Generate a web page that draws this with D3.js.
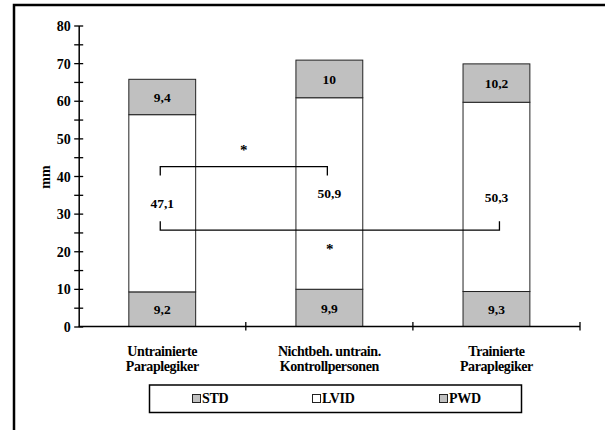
<!DOCTYPE html>
<html><head><meta charset="utf-8">
<script src="https://cdn.jsdelivr.net/npm/d3@7"></script>
<style>
body{margin:0;background:#fff;}
svg text{font-family:"Liberation Serif","Times New Roman","DejaVu Serif",serif;font-weight:bold;fill:#000;}
</style></head>
<body><svg id="c" width="605" height="430"></svg>
<script>
const categories = [["Untrainierte","Paraplegiker"],["Nichtbeh. untrain.","Kontrollpersonen"],["Trainierte","Paraplegiker"]];
const seriesNames = ["STD","LVID","PWD"];
const STD = [9.2, 9.9, 9.3];
const LVID = [47.1, 50.9, 50.3];
const PWD = [9.4, 10, 10.2];
const yTicks = [0,10,20,30,40,50,60,70,80];
const brackets = [
  {from:0, to:1, value:42.5, dir:"down", label:"*"},
  {from:0, to:2, value:25.6, dir:"up", label:"*"}
];

const FONT = "Liberation Serif, Times New Roman, DejaVu Serif, serif";
const svg = d3.select("#c");
const colors = {STD:"#c0c0c0", LVID:"#ffffff", PWD:"#c0c0c0"};

// outer frame
svg.append("path").attr("d","M14,430 L14,5 L605,5").attr("fill","none").attr("stroke","#000").attr("stroke-width",2.5);

const x = d3.scaleBand().domain(d3.range(categories.length)).range([78.7,580]).paddingInner(0.6).paddingOuter(0.3);
const xc = i => x(i) + x.bandwidth()/2;
const y = d3.scaleLinear().domain([0,80]).range([326.5,25.5]);

const stackData = categories.map((c,i)=>({STD:STD[i],LVID:LVID[i],PWD:PWD[i]}));
const stacked = d3.stack().keys(seriesNames)(stackData);

const g = svg.append("g");
stacked.forEach(s=>{
  g.selectAll(null).data(s).enter().append("rect")
    .attr("x",(d,i)=>x(i)).attr("width",x.bandwidth())
    .attr("y",d=>y(d[1])).attr("height",d=>y(d[0])-y(d[1]))
    .attr("fill",colors[s.key]).attr("stroke","#222").attr("stroke-width",1);
});
stacked.forEach(s=>{
  g.selectAll(null).data(s).enter().append("text")
    .attr("font-family",FONT)
    .attr("x",(d,i)=>xc(i)).attr("y",d=>(y(d[0])+y(d[1]))/2)
    .attr("dy","0.35em").attr("text-anchor","middle").attr("font-size",13.5)
    .text(d=>String(+(d[1]-d[0]).toFixed(1)).replace(".",","));
});

// y axis
const yAxis = d3.axisLeft(y).tickValues(d3.range(0,81,5)).tickSize(0).tickFormat(d=> d%10===0 ? d : "");
const ya = svg.append("g").attr("transform","translate(78.7,0)").call(yAxis);
ya.attr("font-family",FONT);
ya.select(".domain").attr("stroke","#000").attr("stroke-width",1.5);
ya.selectAll(".tick line").remove();
ya.selectAll(".tick").append("line").attr("x1",-4.5).attr("x2",4.5).attr("stroke","#000").attr("stroke-width",1.3);
ya.selectAll(".tick text").attr("x",-8).attr("dy","0.36em").attr("font-size",14).attr("font-family",FONT).attr("fill","#000");

// x axis
const xa = svg.append("g");
xa.append("line").attr("x1",78.7).attr("x2",580).attr("y1",y(0)).attr("y2",y(0)).attr("stroke","#000").attr("stroke-width",1.5);
const sep = d3.range(1,categories.length+1).map(i=> x.range()[0] + (x.range()[1]-x.range()[0])*i/categories.length);
xa.selectAll(null).data(sep).enter().append("line")
  .attr("x1",d=>d).attr("x2",d=>d).attr("y1",y(0)-4.5).attr("y2",y(0)+4).attr("stroke","#000").attr("stroke-width",1.3);
categories.forEach((c,i)=>{
  const t = xa.append("text").attr("font-family",FONT).attr("text-anchor","middle").attr("font-size",14).attr("letter-spacing",-0.4);
  c.forEach((line,k)=>t.append("tspan").attr("x",xc(i)).attr("y",356+k*15.3).text(line));
});

// y label
svg.append("text").attr("font-family",FONT).attr("transform","translate(50,177) rotate(-90)").attr("text-anchor","middle").attr("font-size",14).text("mm");

// brackets
brackets.forEach(b=>{
  const x1 = xc(b.from)-2, x2 = xc(b.to)+ (b.to===2?3:-2);
  const yy = y(b.value);
  const t = b.dir==="down" ? 9 : -9;
  svg.append("path").attr("d",`M${x1},${yy+t} L${x1},${yy} L${x2},${yy} L${x2},${yy+t}`)
    .attr("fill","none").attr("stroke","#000").attr("stroke-width",1.3);
  svg.append("text").attr("font-family",FONT).attr("x",(x1+x2)/2).attr("y", b.dir==="down" ? yy-12 : yy+24)
    .attr("text-anchor","middle").attr("font-size",15).text(b.label);
});

// legend
const lg = svg.append("g");
lg.append("rect").attr("x",149.5).attr("y",385).attr("width",372).attr("height",27.5).attr("fill","#fff").attr("stroke","#000").attr("stroke-width",1.5);
const lx = [192.5, 312.5, 439.5];
seriesNames.forEach((n,i)=>{
  lg.append("rect").attr("x",lx[i]).attr("y",394.5).attr("width",8).attr("height",8).attr("fill",colors[n]).attr("stroke","#222").attr("stroke-width",1);
  lg.append("text").attr("font-family",FONT).attr("x",lx[i]+9.5).attr("y",402.7).attr("font-size",14).attr("letter-spacing",-0.3).text(n);
});
</script></body></html>
